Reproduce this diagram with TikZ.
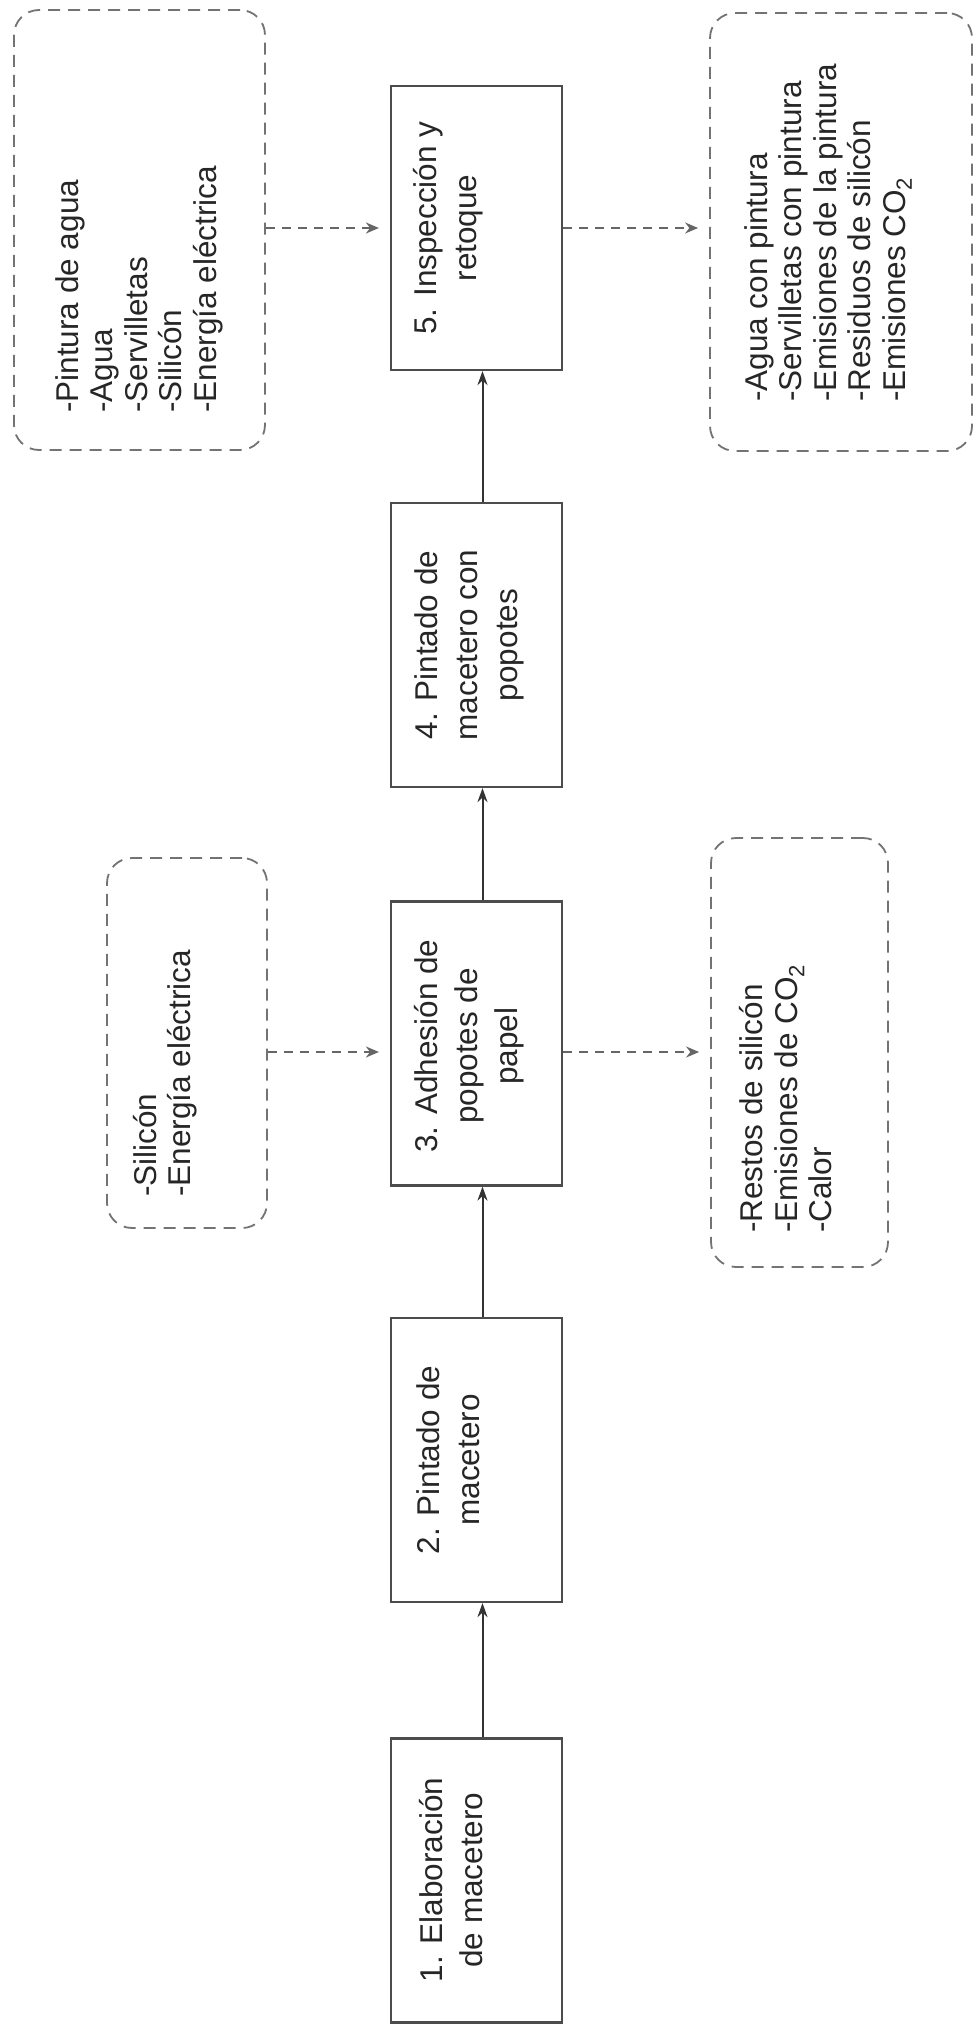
\documentclass[tikz,border=0pt]{standalone}
\usepackage{fontspec}
\setmainfont{Liberation Sans}
\usetikzlibrary{arrows.meta}
\begin{document}
\begin{tikzpicture}[x=1pt,y=-1pt,
  stepbox/.style={draw=black!70, line width=2.2pt, minimum width=171pt, minimum height=284pt, inner sep=0pt},
  steptext/.style={rotate=90, align=center, font=\fontsize{31.5}{40}\selectfont, text=black!85, inner sep=0pt},
  listbox/.style={draw=black!55, line width=1.8pt, dash pattern=on 12pt off 8pt, rounded corners=25pt, inner sep=0pt},
  listtext/.style={rotate=90, anchor=west, align=left, font=\fontsize{31.5}{34.5}\selectfont, text=black!85, inner sep=0pt},
  flow/.style={draw=black!80, line width=2pt, -{Stealth[length=14pt,width=10pt]}},
  dflow/.style={draw=black!60, line width=1.8pt, dash pattern=on 9pt off 7pt, -{Stealth[length=13pt,width=11pt]}, shorten >=11pt},
]
\useasboundingbox (0,0) rectangle (976,2031);
\fill[white] (0,0) rectangle (976,2031);

% process steps
\node[stepbox] (b5) at (476.5,228) {};
\node[stepbox] (b4) at (476.5,645) {};
\node[stepbox] (b3) at (476.5,1043.5) {};
\node[stepbox] (b2) at (476.5,1460) {};
\node[stepbox] (b1) at (476.5,1880.5) {};

\node[steptext] (t5) at (448,228) {5. Inspección y\\retoque};
\node[steptext] (t4) at (469,645) {4. Pintado de\\macetero con\\popotes};
\node[steptext] (t3) at (469,1046) {3. Adhesión de\\popotes de\\papel};
\node[steptext] (t2) at (448,1460) {2. Pintado de\\macetero};
\node[steptext] (t1) at (451,1880) {1. Elaboración\\de macetero};

% input / output boxes
\node[listbox, minimum width=251pt, minimum height=440pt] (in5) at (139.5,230) {};
\node[listbox, minimum width=262pt, minimum height=438pt] (out5) at (841,232) {};
\node[listbox, minimum width=160pt, minimum height=370pt] (in3) at (187,1043) {};
\node[listbox, minimum width=177pt, minimum height=429pt] (out3) at (799.5,1052.5) {};

\node[listtext] (l5) at (139,413) {-Pintura de agua\\-Agua\\-Servilletas\\-Silicón\\-Energía eléctrica};
\node[listtext] (r5) at (828,402) {-Agua con pintura\\-Servilletas con pintura\\-Emisiones de la pintura\\-Residuos de silicón\\-Emisiones CO\textsubscript{2}};
\node[listtext] (l3) at (165,1197) {-Silicón\\-Energía eléctrica};
\node[listtext] (r3) at (786,1233) {-Restos de silicón\\-Emisiones de CO\textsubscript{2}\\-Calor};

% main flow
\draw[flow] ([xshift=6pt]b1.north) -- ([xshift=6pt]b2.south);
\draw[flow] ([xshift=6pt]b2.north) -- ([xshift=6pt]b3.south);
\draw[flow] ([xshift=6pt]b3.north) -- ([xshift=6pt]b4.south);
\draw[flow] ([xshift=6pt]b4.north) -- ([xshift=6pt]b5.south);

% dashed inputs / outputs
\coordinate (m3) at (476.5,1052);
\draw[dflow] (in5.east |- b5.west) -- (b5.west);
\draw[dflow] (b5.east) -- (out5.west |- b5.east);
\draw[dflow] (in3.east |- m3) -- (b3.west |- m3);
\draw[dflow] (b3.east |- m3) -- (out3.west |- m3);
\end{tikzpicture}
\end{document}
